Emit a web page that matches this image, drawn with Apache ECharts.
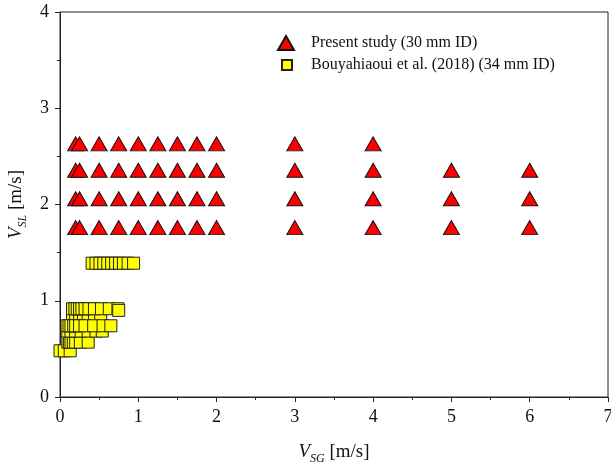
<!DOCTYPE html>
<html>
<head>
<meta charset="utf-8">
<script src="https://cdn.jsdelivr.net/npm/echarts@6/dist/echarts.min.js"></script>
<style>
  html, body { margin: 0; padding: 0; background: #fff; }
  #chart { width: 611px; height: 465px; }
</style>
</head>
<body>
<div id="chart"></div>
<script>
// Flow-pattern test matrix: superficial gas vs. liquid velocity (m/s)

// Present study (30 mm ID): one VSL level per row, VSG values tested in each row
const presentVSL = [1.76, 2.06, 2.355, 2.63];
const presentVSG = [
  [0.2, 0.25, 0.5, 0.75, 1, 1.25, 1.5, 1.75, 2, 3, 4, 5, 6],
  [0.2, 0.25, 0.5, 0.75, 1, 1.25, 1.5, 1.75, 2, 3, 4, 5, 6],
  [0.2, 0.25, 0.5, 0.75, 1, 1.25, 1.5, 1.75, 2, 3, 4, 5, 6],
  [0.2, 0.25, 0.5, 0.75, 1, 1.25, 1.5, 1.75, 2, 3, 4]
];

// Bouyahiaoui et al. (2018), 34 mm ID
const bouyVSL = [0.48, 0.57, 0.685, 0.855, 0.74, 0.917, 0.90, 1.39];
const bouyVSG = [
  [0.0, 0.055, 0.13],
  [0.10, 0.12, 0.14, 0.17, 0.2, 0.26, 0.36],
  [0.1, 0.14, 0.2, 0.27, 0.36, 0.46, 0.54],
  [0.16, 0.2, 0.25, 0.3, 0.36, 0.44, 0.52],
  [0.09, 0.115, 0.14, 0.175, 0.2, 0.25, 0.32, 0.43, 0.55, 0.65],
  [0.16, 0.19, 0.22, 0.25, 0.28, 0.32, 0.37, 0.44, 0.53, 0.63, 0.74],
  [0.75],
  [0.41, 0.46, 0.51, 0.56, 0.61, 0.66, 0.71, 0.76, 0.81, 0.87, 0.94]
];

const seriesNames = ['Present study (30 mm ID)', 'Bouyahiaoui et al. (2018) (34 mm ID)'];

function toPoints(levels, rows) {
  const pts = [];
  levels.forEach((vsl, i) => rows[i].forEach(vsg => pts.push([vsg, vsl])));
  return pts;
}

const FONT = '"Liberation Serif", "Times New Roman", serif';

const chart = echarts.init(document.getElementById('chart'), null, { renderer: 'canvas' });

const axisCommon = {
  axisLine: { show: true, onZero: false, lineStyle: { color: '#222', width: 1 } },
  axisTick: { show: true, inside: false, length: 5, lineStyle: { color: '#222' } },
  minorTick: { show: true, splitNumber: 2, length: 3, lineStyle: { color: '#222' } },
  splitLine: { show: false },
  axisLabel: { color: '#111', fontFamily: FONT, fontSize: 18, margin: 11 },
  nameLocation: 'middle',
  nameTextStyle: {
    color: '#111',
    fontFamily: FONT,
    rich: {
      v: { fontFamily: FONT, fontSize: 19, fontStyle: 'italic', color: '#111', lineHeight: 26 },
      s: { fontFamily: FONT, fontSize: 12, fontStyle: 'italic', color: '#111', verticalAlign: 'bottom', lineHeight: 12 },
      u: { fontFamily: FONT, fontSize: 19, color: '#111', lineHeight: 26 }
    }
  }
};

const legendText = { fontFamily: FONT, fontSize: 16, color: '#111' };

chart.setOption({
  animation: false,
  backgroundColor: '#fff',
  grid: {
    left: 60, right: 3, top: 12, bottom: 68,
    containLabel: false,
    outerBoundsMode: 'none',
    show: true, borderColor: '#222', borderWidth: 1, backgroundColor: 'transparent'
  },
  xAxis: Object.assign({}, axisCommon, {
    type: 'value', min: 0, max: 7, interval: 1,
    name: '{v|V}{s|SG}{u| [m/s]}',
    nameGap: 42
  }),
  yAxis: Object.assign({}, axisCommon, {
    type: 'value', min: 0, max: 4, interval: 1,
    name: '{v|V}{s|SL}{u| [m/s]}',
    nameGap: 31
  }),
  legend: [
    {
      data: [{ name: seriesNames[0], icon: 'triangle' }],
      left: 277, top: 35, padding: 0,
      itemWidth: 16, itemHeight: 14,
      textStyle: Object.assign({ padding: [0, 0, 0, 12] }, legendText),
      selectedMode: false
    },
    {
      data: [{ name: seriesNames[1], icon: 'rect' }],
      left: 281, top: 57, padding: 0,
      itemWidth: 10, itemHeight: 10,
      textStyle: Object.assign({ padding: [0, 0, 0, 14] }, legendText),
      selectedMode: false
    }
  ],
  series: [
    {
      name: seriesNames[1],
      type: 'scatter',
      symbol: 'rect',
      symbolSize: 12,
      clip: false,
      itemStyle: { color: '#ffff00', borderColor: '#222', borderWidth: 1, opacity: 1 },
      data: toPoints(bouyVSL, bouyVSG)
    },
    {
      name: seriesNames[0],
      type: 'scatter',
      symbol: 'triangle',
      symbolSize: [16, 14],
      itemStyle: { color: '#ff0000', borderColor: '#111', borderWidth: 1, opacity: 1 },
      data: toPoints(presentVSL, presentVSG)
    }
  ]
});
</script>
</body>
</html>
